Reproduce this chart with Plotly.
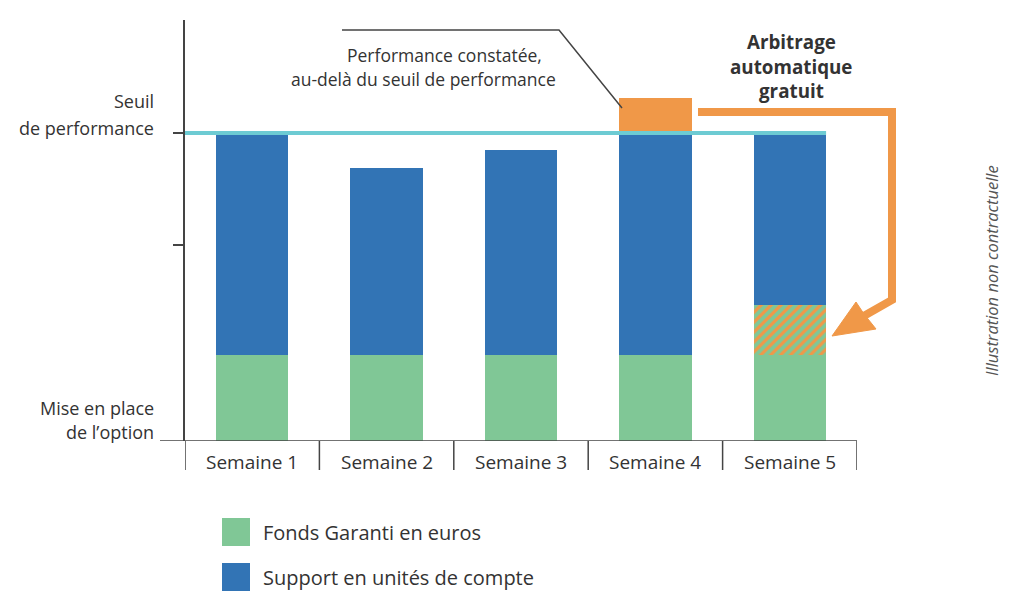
import plotly.graph_objects as go

# ---------------- data ----------------
categories = ["Semaine 1", "Semaine 2", "Semaine 3", "Semaine 4", "Semaine 5"]
fonds_garanti = [28, 28, 28, 28, 28]           # Fonds Garanti en euros
arbitrage_vers_fonds = [0, 0, 0, 0, 16]         # hatched part (Semaine 5)
support_uc = [72, 60.5, 66.5, 72, 56]           # Support en unités de compte
performance_excedentaire = [0, 0, 0, 11.5, 0]   # above the seuil (Semaine 4)
seuil = 100
y_ticks = [63.6, 100]
legend_labels = ["Fonds Garanti en euros", "Support en unités de compte"]

# ---------------- style ----------------
GREEN = "#80c796"
BLUE = "#3274b5"
ORANGE = "#f09848"
TEAL = "#6dcbd3"
AXIS = "#444444"
TEXT = "#333333"
FONT = "Open Sans"
BAR_W = 0.54

# plot area as seen on screen (page has an 8px body margin)
OFF = 8
SL, SR, ST, SB = 185, 857, 20, 441
W, H = SR - SL, SB - ST


def px(x):
    return (x - SL) / W


def py(y):
    return (SB - y) / H


x = list(range(len(categories)))

fig = go.Figure()
fig.add_trace(go.Bar(x=x, y=fonds_garanti, width=BAR_W, marker=dict(color=GREEN, line=dict(width=0)),
                     showlegend=False, hoverinfo="skip"))
fig.add_trace(go.Bar(x=x, y=arbitrage_vers_fonds, width=BAR_W,
                     marker=dict(color=GREEN, line=dict(width=0),
                                 pattern=dict(shape="/", bgcolor=GREEN, fgcolor=ORANGE, size=7, solidity=0.45,
                                              fillmode="replace")),
                     showlegend=False, hoverinfo="skip"))
fig.add_trace(go.Bar(x=x, y=support_uc, width=BAR_W, marker=dict(color=BLUE, line=dict(width=0)),
                     showlegend=False, hoverinfo="skip"))
fig.add_trace(go.Bar(x=x, y=performance_excedentaire, width=BAR_W, marker=dict(color=ORANGE, line=dict(width=0)),
                     showlegend=False, hoverinfo="skip"))

shapes = []
# seuil line
shapes.append(dict(type="line", xref="x", yref="y", x0=-0.5, x1=len(categories) - 1 + BAR_W / 2,
                   y0=seuil, y1=seuil, line=dict(color=TEAL, width=4), layer="above"))
# x-axis baseline (extends left of the y axis)
shapes.append(dict(type="line", xref="paper", yref="y", x0=px(160), x1=1, y0=0, y1=0,
                   line=dict(color=AXIS, width=1.5)))
# category dividers
for i in range(len(categories) + 1):
    shapes.append(dict(type="line", xref="x", yref="paper", x0=i - 0.5, x1=i - 0.5, y0=0, y1=py(470),
                       line=dict(color=AXIS, width=1.5)))
# leader line to the excess performance
shapes.append(dict(type="path", xref="paper", yref="paper",
                   path=f"M {px(342)} {py(30)} L {px(559)} {py(30)} L {px(622)} {py(108)}",
                   line=dict(color=AXIS, width=1.5)))
# orange arrow shaft
shapes.append(dict(type="path", xref="paper", yref="paper",
                   path=(f"M {px(698)} {py(112)} L {px(892)} {py(112)} L {px(892)} {py(300)} "
                         f"L {px(862)} {py(317)}"),
                   line=dict(color=ORANGE, width=8), fillcolor="rgba(0,0,0,0)"))
# orange arrow head
shapes.append(dict(type="path", xref="paper", yref="paper",
                   path=(f"M {px(832)} {py(336)} L {px(856)} {py(302)} L {px(864)} {py(314)} "
                         f"L {px(876)} {py(329)} Z"),
                   line=dict(color=ORANGE, width=1), fillcolor=ORANGE))
# legend swatches
for i, col in enumerate([GREEN, BLUE]):
    y0 = 518 + 45 * i
    shapes.append(dict(type="rect", xref="paper", yref="paper", x0=px(222), x1=px(250),
                       y0=py(y0), y1=py(y0 + 28), fillcolor=col, line=dict(width=0)))

annotations = []


def txt(text, sx, sy, size, xanchor="center", bold=False, italic=False, color=TEXT, angle=0):
    if bold:
        text = f"<b>{text}</b>"
    if italic:
        text = f"<i>{text}</i>"
    annotations.append(dict(x=px(sx), y=py(sy), xref="paper", yref="paper", text=text, showarrow=False,
                            xanchor=xanchor, yanchor="middle", textangle=angle,
                            font=dict(family=FONT, size=size, color=color)))


for i, c in enumerate(categories):
    annotations.append(dict(x=i, y=py(462), xref="x", yref="paper", text=c, showarrow=False,
                            font=dict(family=FONT, size=19, color=TEXT), xanchor="center", yanchor="middle"))

txt("Seuil", 156, 101, 18, xanchor="right")
txt("de performance", 156, 128, 18, xanchor="right")
txt("Mise en place", 156, 408, 18, xanchor="right")
txt("de l’option", 156, 432, 18, xanchor="right")
txt("Performance constatée,", 544, 55, 17.5, xanchor="right")
txt("au-delà du seuil de performance", 558, 79, 17.5, xanchor="right")
txt("Arbitrage", 791, 42, 18.8, bold=True)
txt("automatique", 791, 67, 18.8, bold=True)
txt("gratuit", 791, 91, 18.8, bold=True)
txt("Illustration non contractuelle", 991, 271, 16.5, italic=True, color="#555555", angle=-90)
for i, lab in enumerate(legend_labels):
    txt(lab, 261, 532 + 45 * i, 20, xanchor="left")

fig.update_layout(
    width=1024, height=614,
    margin=dict(l=SL - OFF, r=1024 - (SR - OFF), t=ST - OFF, b=614 - (SB - OFF), autoexpand=False),
    paper_bgcolor="white", plot_bgcolor="white",
    barmode="stack", bargap=0,
    showlegend=False,
    xaxis=dict(range=[-0.5, len(categories) - 0.5], showline=False, showgrid=False, zeroline=False,
               showticklabels=False, ticks="", fixedrange=True),
    yaxis=dict(range=[0, (SB - ST) / 3.08], showline=True, linecolor=AXIS, linewidth=1.5,
               ticks="outside", tickvals=y_ticks, ticklen=10, tickwidth=1.5, tickcolor=AXIS,
               showticklabels=False, showgrid=False, zeroline=False, fixedrange=True),
    shapes=shapes,
    annotations=annotations,
    font=dict(family=FONT, color=TEXT),
)

fig.write_html("out.html")
